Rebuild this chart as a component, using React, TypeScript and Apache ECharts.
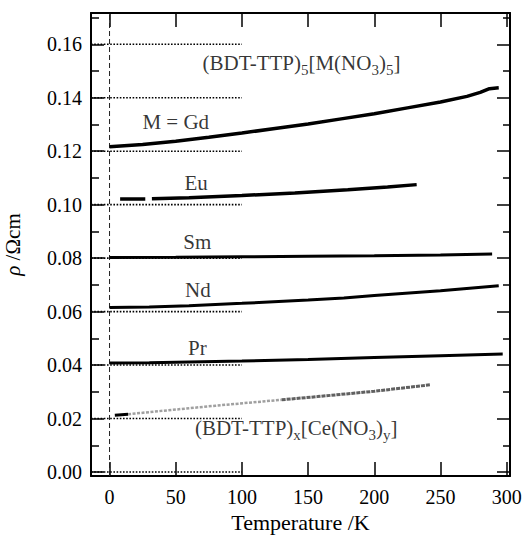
import React, { useEffect, useRef } from "react";
import * as echarts from "echarts";

// ---- axis ticks / labels ----
const xTicks = [0, 50, 100, 150, 200, 250, 300];
const yTicks = [0, 0.02, 0.04, 0.06, 0.08, 0.1, 0.12, 0.14, 0.16];
const xStep = 50;
const yStep = 0.02;
const xRange = [-14, 302.5];
const yRange = [-0.0015, 0.1717];

// dotted reference levels (drawn from the left axis to T = 100 K)
const refLevels = [0, 0.02, 0.04, 0.06, 0.08, 0.1, 0.12, 0.14, 0.16];
const refEndT = 100;

// ---- resistivity curves [T (K), rho (Ohm cm)] ----
const gd = [[0, 0.1217], [25, 0.1225], [50, 0.1237], [75, 0.1252], [100, 0.1268], [125, 0.1285], [150, 0.1302], [175, 0.1321], [200, 0.134], [225, 0.1362], [250, 0.1384], [270, 0.1405], [280, 0.142], [287, 0.1434], [294, 0.1437]];
const euA = [[8, 0.1021], [27, 0.1021]];
const euB = [[32, 0.1022], [60, 0.1026], [100, 0.1034], [140, 0.1044], [180, 0.1056], [210, 0.1066], [232, 0.1075]];
const sm = [[0, 0.0802], [50, 0.0803], [100, 0.0805], [150, 0.0807], [200, 0.0809], [250, 0.0812], [289, 0.0815]];
const nd = [[0, 0.0615], [30, 0.0617], [60, 0.0622], [100, 0.0631], [150, 0.0643], [177, 0.0651], [200, 0.066], [250, 0.0678], [294, 0.0697]];
const pr = [[0, 0.0408], [30, 0.0409], [100, 0.0415], [150, 0.0421], [200, 0.0428], [250, 0.0435], [297, 0.0441]];
const ceA = [[4, 0.0212], [14, 0.0216]];
const ceB1 = [[14, 0.0216], [30, 0.0224], [80, 0.0248], [130, 0.027]];
const ceB2 = [[130, 0.027], [157, 0.0282], [200, 0.0302], [242, 0.0326]];

// ---- annotations ----
const noteTexts = [
  "{t|(BDT-TTP)}{s|5}{t|[M(NO}{s|3}{t|)}{s|5}{t|]}",
  "{t|M = Gd}",
  "{t|Eu}",
  "{t|Sm}",
  "{t|Nd}",
  "{t|Pr}",
  "{t|(BDT-TTP)}{s|x}{t|[Ce(NO}{s|3}{t|)}{s|y}{t|]}",
];
const noteT = [145, 50, 65.4, 66.3, 66.7, 66.3, 141];
const noteRho = [0.1523, 0.1305, 0.1074, 0.0856, 0.0675, 0.046, 0.0157];

const FONT = "Liberation Serif";

export default function App() {
  const ref = useRef<HTMLDivElement>(null);
  useEffect(() => {
    if (!ref.current) return;
    const chart = echarts.init(ref.current, undefined, { renderer: "svg" });
    const lineSeries = (data: number[][], width: number, color = "#000", type: any = "solid") => ({
      type: "line",
      data,
      symbol: "none",
      smooth: false,
      lineStyle: { color, width, type },
      silent: true,
      z: 3,
    });
    const series: any[] = [];
    refLevels.forEach((lv) => {
      series.push({
        type: "line",
        data: [[xRange[0], lv], [refEndT, lv]],
        symbol: "none",
        lineStyle: { color: "#000", width: 1.6, type: [1.6, 1.6] },
        silent: true,
        z: 2,
      });
    });
    series.push({
      type: "line",
      data: [[0, yRange[0]], [0, yRange[1]]],
      symbol: "none",
      lineStyle: { color: "#222", width: 1, type: [5, 3] },
      silent: true,
      z: 2,
    });
    series.push(lineSeries(gd, 3.5));
    series.push(lineSeries(euA, 3.5));
    series.push(lineSeries(euB, 3.5));
    series.push(lineSeries(sm, 3));
    series.push(lineSeries(nd, 3));
    series.push(lineSeries(pr, 3));
    series.push(lineSeries(ceA, 3));
    series.push(lineSeries(ceB1, 2.5, "#a0a0a0", [3, 1.5]));
    series.push(lineSeries(ceB2, 3, "#606060", [4, 1]));
    series.push({
      type: "scatter",
      symbolSize: 0,
      silent: true,
      z: 5,
      data: noteTexts.map((txt, i) => ({
        value: [noteT[i], noteRho[i]],
        label: { formatter: txt },
      })),
      label: {
        show: true,
        position: "inside",
        rich: {
          t: { fontSize: 21, fontFamily: FONT, color: "#000", lineHeight: 24, verticalAlign: "top" },
          s: { fontSize: 15, fontFamily: FONT, color: "#000", verticalAlign: "top", padding: [10, 0, 0, 0] },
        },
      },
    });

    const mkLine = () => ({ show: true, onZero: false, lineStyle: { color: "#000", width: 2 } });
    const mkTick = (len: number) => ({ show: true, inside: true, length: len, lineStyle: { color: "#000", width: 1.5 } });
    const mkMinor = (len: number) => ({ show: true, splitNumber: 2, length: len, lineStyle: { color: "#000", width: 1.5 } });
    const option: any = {
      animation: false,
      grid: { left: 91, right: 14, top: 13, bottom: 60, containLabel: false, outerBoundsMode: "none" },
      xAxis: [
        {
          type: "value", position: "bottom", min: xRange[0], max: xRange[1],
          minInterval: xStep, maxInterval: xStep,
          axisLine: mkLine(), splitLine: { show: false }, axisTick: mkTick(14),
          axisLabel: { customValues: xTicks, fontSize: 20, fontFamily: FONT, color: "#000", margin: 11 },
          name: "Temperature /K", nameLocation: "middle", nameGap: 28,
          nameTextStyle: { fontSize: 22, fontFamily: FONT, color: "#000" },
        },
        {
          type: "value", position: "top", min: xRange[0], max: xRange[1],
          minInterval: xStep, maxInterval: xStep,
          axisLine: mkLine(), splitLine: { show: false }, axisTick: mkTick(14),
          axisLabel: { show: false },
        },
      ],
      yAxis: [
        {
          type: "value", position: "left", min: yRange[0], max: yRange[1],
          minInterval: yStep, maxInterval: yStep,
          axisLine: mkLine(), splitLine: { show: false }, axisTick: mkTick(13),
          minorTick: mkMinor(8), minorSplitLine: { show: false },
          axisLabel: { customValues: yTicks, fontSize: 20, fontFamily: FONT, color: "#000", margin: 9, formatter: (v: number) => v.toFixed(2) },
          name: "{i|ρ} /Ωcm", nameLocation: "middle", nameGap: 68,
          nameTextStyle: { fontSize: 21, fontFamily: FONT, color: "#000", rich: { i: { fontSize: 21, fontFamily: FONT, fontStyle: "italic", color: "#000" } } },
        },
        {
          type: "value", position: "right", min: yRange[0], max: yRange[1],
          minInterval: yStep, maxInterval: yStep,
          axisLine: mkLine(), splitLine: { show: false }, axisTick: mkTick(13),
          minorTick: mkMinor(7), minorSplitLine: { show: false },
          axisLabel: { show: false },
        },
      ],
      series,
    };
    chart.setOption(option);
    return () => chart.dispose();
  }, []);
  return <div ref={ref} style={{ position: "absolute", left: 0, top: 0, width: 524, height: 536 }} />;
}
